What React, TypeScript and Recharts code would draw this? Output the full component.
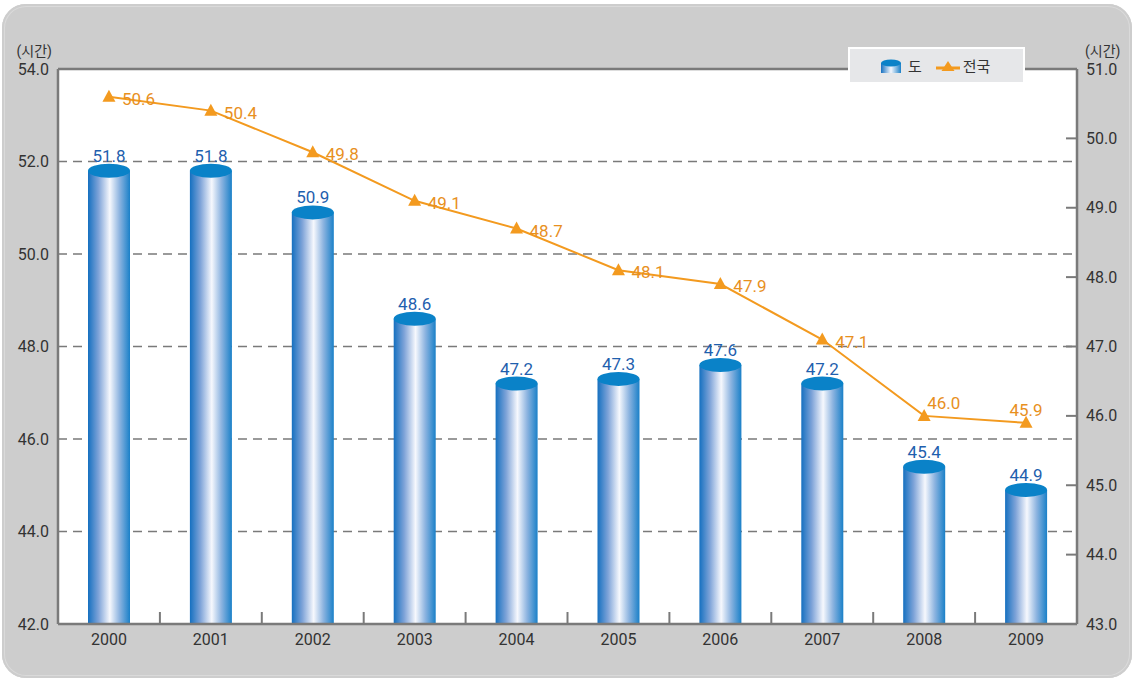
import {
  ComposedChart,
  Bar,
  Line,
  XAxis,
  YAxis,
  CartesianGrid,
  LabelList,
  Legend,
  ReferenceLine,
} from "recharts";

const years = ["2000", "2001", "2002", "2003", "2004", "2005", "2006", "2007", "2008", "2009"];
const doHours = [51.8, 51.8, 50.9, 48.6, 47.2, 47.3, 47.6, 47.2, 45.4, 44.9];
const nationHours = [50.6, 50.4, 49.8, 49.1, 48.7, 48.1, 47.9, 47.1, 46.0, 45.9];
const leftTicks = [42, 44, 46, 48, 50, 52, 54];
const rightTicks = [43, 44, 45, 46, 47, 48, 49, 50, 51];

const data = years.map((y, i) => ({ year: y, do: doHours[i], nation: nationHours[i] }));

const W = 1134;
const H = 681;
const PLOT_LEFT = 58;
const PLOT_RIGHT = 1077;
const BAND = (PLOT_RIGHT - PLOT_LEFT) / years.length;

const AXIS = "#7a7a7a";
const ORANGE = "#f39a1f";
const BLUE_TEXT = "#1f5fae";
const FONT = "Roboto, 'Noto Sans CJK KR', sans-serif";

const Cylinder = (props: any) => {
  const { x, y, width, height } = props;
  if (height == null || width == null) return null;
  const ry = 7;
  return (
    <g>
      <rect x={x} y={y} width={width} height={height} fill="url(#cylGrad)" />
      <ellipse cx={x + width / 2} cy={y} rx={width / 2} ry={ry} fill="#0a82c8" />
    </g>
  );
};

const Triangle = (props: any) => {
  const { cx, cy } = props;
  if (cx == null || cy == null) return null;
  return (
    <path
      d={`M${cx},${cy - 7} L${cx + 6.5},${cy + 5} L${cx - 6.5},${cy + 5} Z`}
      fill={ORANGE}
    />
  );
};

// the last two labels sit above their points, the rest to the right
const LineLabel = (props: any) => {
  const { x, y, value, index } = props;
  let tx = x + 13;
  let ty = y + 2;
  let anchor: "start" | "middle" = "start";
  if (index === years.length - 2) {
    tx = x + 3;
    ty = y - 13;
  } else if (index === years.length - 1) {
    tx = x;
    ty = y - 13;
    anchor = "middle";
  }
  return (
    <text x={tx} y={ty} textAnchor={anchor} fill="#e8901e" fontSize={17} dominantBaseline="central" fontFamily={FONT}>
      {Number(value).toFixed(1)}
    </text>
  );
};

const XTick = (props: any) => {
  const { x, y, payload, index } = props;
  return (
    <g>
      <text x={x} y={y + 15} textAnchor="middle" dominantBaseline="central" fill="#333" fontSize={16} fontFamily={FONT}>
        {payload.value}
      </text>
      {index < years.length - 1 && (
        <line x1={x + BAND / 2} x2={x + BAND / 2} y1={y} y2={y - 12} stroke={AXIS} strokeWidth={2} />
      )}
    </g>
  );
};

const LeftTick = (props: any) => {
  const { x, y, payload } = props;
  return (
    <text x={x} y={y} textAnchor="end" dominantBaseline="central" fill="#333" fontSize={16} fontFamily={FONT}>
      {Number(payload.value).toFixed(1)}
    </text>
  );
};

const RightTick = (props: any) => {
  const { x, y, payload } = props;
  return (
    <g>
      <line x1={x - 11} x2={x} y1={y} y2={y} stroke={AXIS} strokeWidth={2} />
      <text x={x + 9} y={y} textAnchor="start" dominantBaseline="central" fill="#333" fontSize={16} fontFamily={FONT}>
        {Number(payload.value).toFixed(1)}
      </text>
    </g>
  );
};

const UnitLabel = (side: "left" | "right") => (props: any) => {
  const vb = props.viewBox || {};
  const x = side === "left" ? vb.x + vb.width - 6 : vb.x + 8;
  return (
    <text
      x={x}
      y={vb.y - 18}
      textAnchor={side === "left" ? "end" : "start"}
      dominantBaseline="central"
      fill="#333"
      fontSize={14}
      fontFamily={FONT}
    >
      (시간)
    </text>
  );
};

const LegendBox = () => (
  <div
    style={{
      width: 177,
      height: 37,
      boxSizing: "border-box",
      background: "#e6e7e9",
      border: "2px solid #fff",
      display: "flex",
      alignItems: "center",
      paddingLeft: 30,
      fontFamily: FONT,
      fontSize: 15,
      color: "#333",
    }}
  >
    <svg width={22} height={14} style={{ marginRight: 6 }}>
      <rect x={1} y={4} width={20} height={10} fill="url(#cylGradSmall)" />
      <ellipse cx={11} cy={4} rx={10} ry={3.5} fill="#0a82c8" />
    </svg>
    <span style={{ marginRight: 14 }}>도</span>
    <svg width={24} height={14} style={{ marginRight: 3 }}>
      <line x1={0} x2={24} y1={9} y2={9} stroke={ORANGE} strokeWidth={3} />
      <path d="M12,2 L18.5,12 L5.5,12 Z" fill={ORANGE} />
    </svg>
    <span>전국</span>
    <svg width={0} height={0} style={{ position: "absolute" }}>
      <defs>
        <linearGradient id="cylGradSmall" x1="0" y1="0" x2="1" y2="0">
          <stop offset="0" stopColor="#1570c0" />
          <stop offset="0.5" stopColor="#f4f7fd" />
          <stop offset="1" stopColor="#1a80c8" />
        </linearGradient>
      </defs>
    </svg>
  </div>
);

export default function App() {
  return (
    <div style={{ position: "absolute", left: 0, top: 0, width: W, height: H, background: "#fff" }}>
      <div
        style={{
          position: "absolute",
          left: 2,
          top: 4,
          width: 1130,
          height: 674,
          borderRadius: 24,
          background: "#cdcdcd",
          boxShadow: "inset 0 0 0 2px #cdcdcd, inset 0 0 0 3px #dadada",
        }}
      />
      <div style={{ position: "absolute", left: 0, top: 0 }}>
        <ComposedChart
          width={W}
          height={H}
          data={data}
          margin={{ top: 69, right: 0, bottom: 0, left: 0 }}
          barCategoryGap={0}
        >
          <defs>
            <linearGradient id="cylGrad" x1="0" y1="0" x2="1" y2="0">
              <stop offset="0" stopColor="#1570c0" />
              <stop offset="0.25" stopColor="#7ea3d8" />
              <stop offset="0.52" stopColor="#f6f8fd" />
              <stop offset="0.75" stopColor="#8db4e0" />
              <stop offset="1" stopColor="#1a80c8" />
            </linearGradient>
          </defs>
          <CartesianGrid
            yAxisId="left"
            vertical={false}
            fill="#ffffff"
            stroke={AXIS}
            strokeWidth={1.5}
            strokeDasharray="9 6"
          />
          <XAxis
            dataKey="year"
            height={57}
            axisLine={{ stroke: AXIS, strokeWidth: 2.5 }}
            tickLine={false}
            tickSize={0}
            tickMargin={0}
            tick={<XTick />}
            interval={0}
          />
          <YAxis
            yAxisId="left"
            orientation="left"
            width={58}
            domain={[42, 54]}
            ticks={leftTicks}
            allowDataOverflow
            axisLine={{ stroke: AXIS, strokeWidth: 2.5 }}
            tickLine={false}
            tickSize={0}
            tickMargin={9}
            tick={<LeftTick />}
            label={{ content: UnitLabel("left") }}
          />
          <YAxis
            yAxisId="right"
            orientation="right"
            width={57}
            domain={[43, 51]}
            ticks={rightTicks}
            allowDataOverflow
            axisLine={{ stroke: AXIS, strokeWidth: 2.5 }}
            tickLine={false}
            tickSize={0}
            tickMargin={0}
            tick={<RightTick />}
            label={{ content: UnitLabel("right") }}
          />
          <ReferenceLine yAxisId="left" y={54} stroke={AXIS} strokeWidth={2.5} />
          <Legend
            verticalAlign="middle"
            align="center"
            content={<LegendBox />}
            wrapperStyle={{ left: 848, top: 47, width: 177, height: 37 }}
          />
          <Bar
            yAxisId="left"
            dataKey="do"
            name="도"
            barSize={42}
            shape={<Cylinder />}
            isAnimationActive={false}
          >
            <LabelList
              dataKey="do"
              position="top"
              offset={9}
              fill={BLUE_TEXT}
              fontSize={17}
              fontFamily={FONT}
              formatter={(v: any) => Number(v).toFixed(1)}
            />
          </Bar>
          <Line
            yAxisId="right"
            dataKey="nation"
            name="전국"
            stroke={ORANGE}
            strokeWidth={2}
            dot={<Triangle />}
            activeDot={false}
            isAnimationActive={false}
          >
            <LabelList dataKey="nation" content={<LineLabel />} />
          </Line>
        </ComposedChart>
      </div>
    </div>
  );
}
